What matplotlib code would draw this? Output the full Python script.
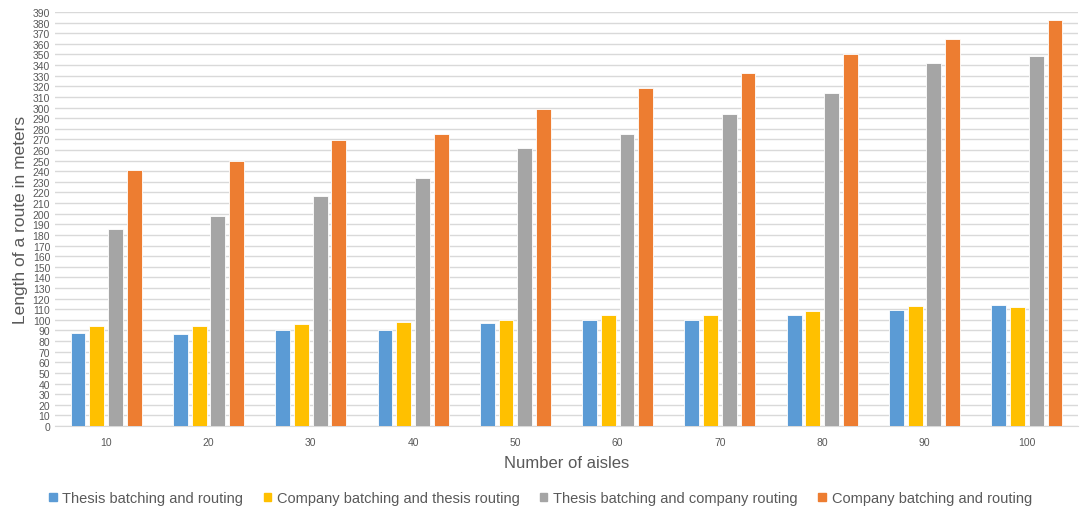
import numpy as np
import matplotlib.pyplot as plt
from matplotlib.patches import Patch

plt.rcParams['font.family'] = ['Liberation Sans', 'DejaVu Sans']

aisles = [10, 20, 30, 40, 50, 60, 70, 80, 90, 100]
thesis_both = [88, 87, 90, 90, 97, 100, 100, 105, 109, 114]
company_thesis_routing = [94, 94, 96, 98, 100, 105, 105, 108, 113, 112]
thesis_company_routing = [186, 198, 217, 234, 262, 275, 294, 314, 342, 349]
company_both = [241, 250, 269, 275, 299, 318, 333, 350, 365, 382]

series = [
    ('Thesis batching and routing', thesis_both, '#5B9BD5'),
    ('Company batching and thesis routing', company_thesis_routing, '#FFC000'),
    ('Thesis batching and company routing', thesis_company_routing, '#A5A5A5'),
    ('Company batching and routing', company_both, '#ED7D31'),
]

fig = plt.figure(figsize=(10.81, 5.10), dpi=100)
ax = fig.add_axes([55/1081, 83/510, 1023/1081, 414/510])

x = np.arange(len(aisles))
pitch = 0.183
width = 0.145
for i, (name, vals, col) in enumerate(series):
    ax.bar(x + (i - 1.5) * pitch, vals, width, color=col, edgecolor='white',
           linewidth=0.6, label=name, zorder=3)

ax.set_xlim(-0.5, len(aisles) - 0.5)
ax.set_ylim(0, 390)
ax.set_yticks(np.arange(0, 391, 10))
ax.set_xticks(x)
ax.set_xticklabels([str(a) for a in aisles])
ax.tick_params(axis='both', length=0, labelsize=7.5, colors='#595959')
ax.tick_params(axis='x', pad=8)
ax.grid(axis='y', color='#D9D9D9', linewidth=1, zorder=0)
for s in ['top', 'right', 'left']:
    ax.spines[s].set_visible(False)
ax.spines['bottom'].set_color('#D9D9D9')

ax.set_ylabel('Length of a route in meters', fontsize=12.5, color='#595959', labelpad=3)
ax.set_xlabel('Number of aisles', fontsize=12, color='#595959', labelpad=6)

handles = [Patch(color=c, label=n) for n, v, c in series]
fig.legend(handles=handles, loc='center', bbox_to_anchor=(0.5, 11/510), ncol=4,
           frameon=False, fontsize=10.5, labelcolor='#595959', handlelength=0.5,
           handleheight=0.5, handletextpad=0.4, columnspacing=1.4)

fig.savefig('out.png', dpi=100)
